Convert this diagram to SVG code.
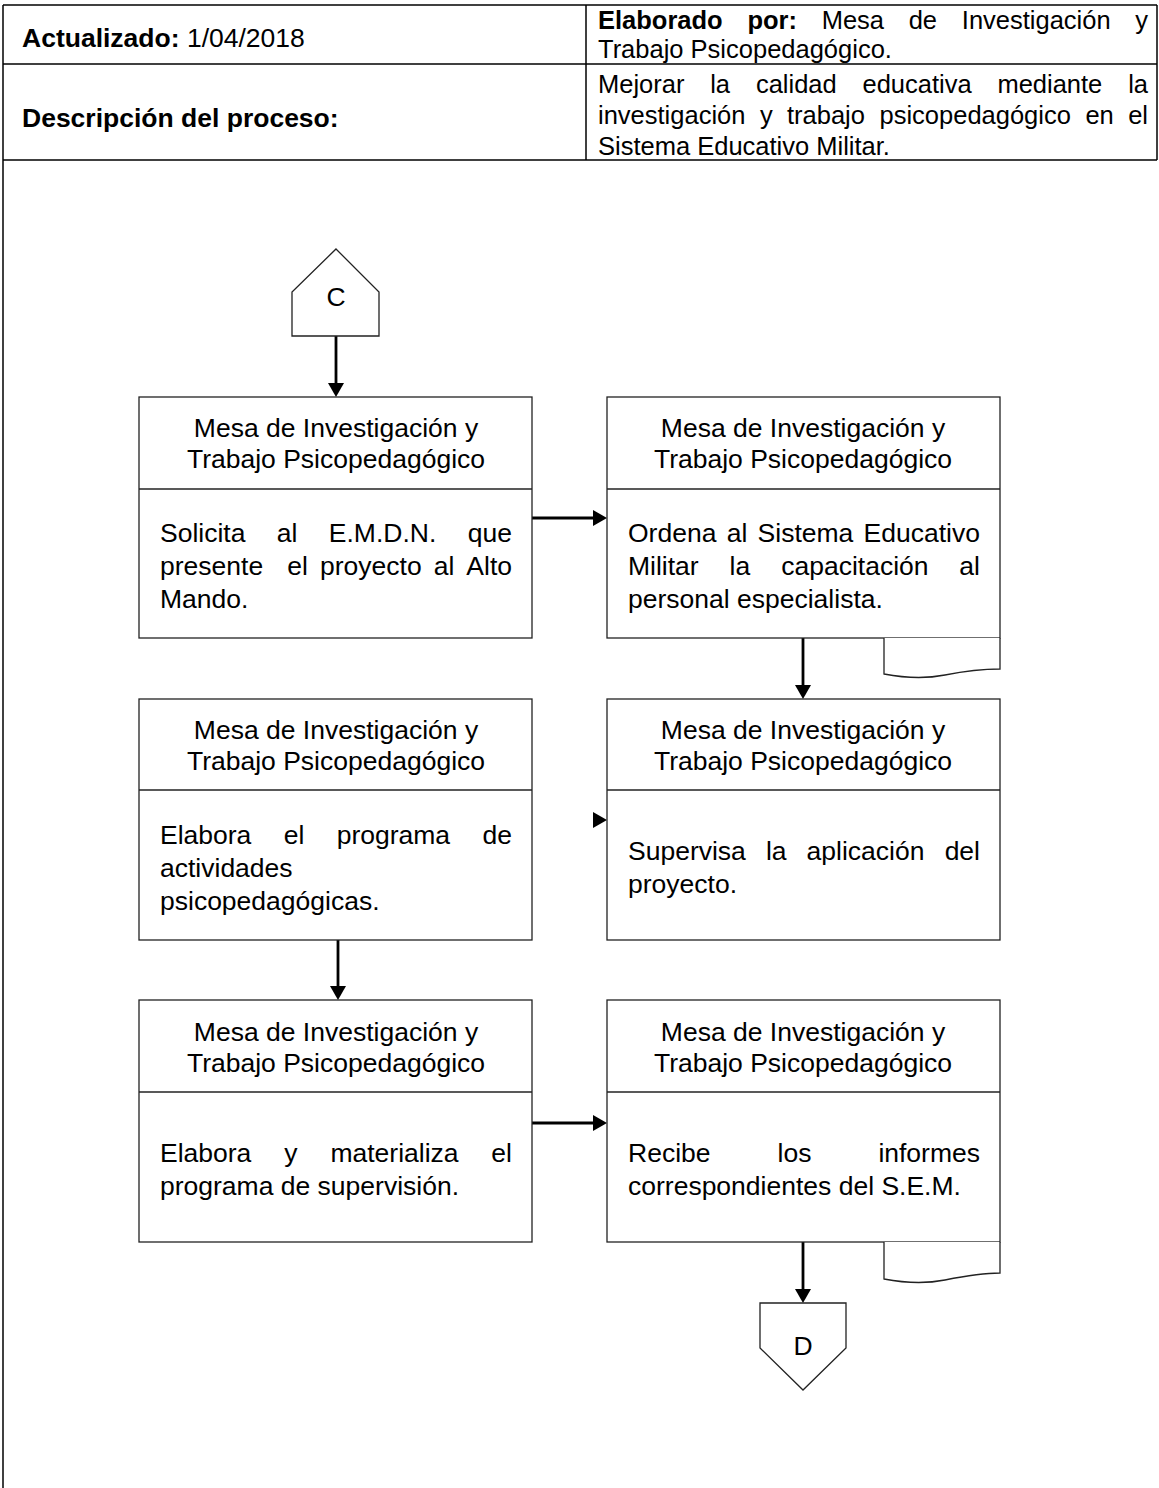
<svg xmlns="http://www.w3.org/2000/svg" width="1159" height="1488" viewBox="0 0 1159 1488">
<defs>
<style>
.t{font-family:"Liberation Sans",Arial,sans-serif;font-size:26.5px;fill:#000}
.h{font-size:25.5px}
.b{font-weight:bold}
.c{text-anchor:middle}
.e{text-anchor:end}
.frame{stroke:#000;stroke-width:1.5;fill:none}
.box{fill:#fff;stroke:#222;stroke-width:1.3}
.ln{stroke:#222;stroke-width:1.3;fill:none}
.conn{stroke:#000;stroke-width:2.8;fill:none}
.head{fill:#000;stroke:none}
</style>
</defs>
<rect x="0" y="0" width="1159" height="1488" fill="#fff"/>
<g id="frame">
<line class="frame" x1="3" y1="5" x2="1157" y2="5"/>
<line class="frame" x1="3" y1="64" x2="1157" y2="64"/>
<line class="frame" x1="3" y1="160" x2="1157" y2="160"/>
<line class="frame" x1="3" y1="5" x2="3" y2="1488"/>
<line class="frame" x1="1157" y1="5" x2="1157" y2="160"/>
<line class="frame" x1="586" y1="5" x2="586" y2="160"/>
<text class="t" x="22" y="47"><tspan class="b">Actualizado:</tspan> 1/04/2018</text>
<text class="t h b" x="598" y="29">Elaborado</text>
<text class="t h b" x="747.4" y="29">por:</text>
<text class="t h" x="821.7" y="29">Mesa</text>
<text class="t h" x="908.7" y="29">de</text>
<text class="t h" x="961.8" y="29">Investigación</text>
<text class="t h e" x="1148" y="29">y</text>
<text class="t h" x="598" y="58">Trabajo Psicopedagógico.</text>
<text class="t b" x="22" y="127">Descripción del proceso:</text>
<text class="t h" x="598" y="93">Mejorar</text>
<text class="t h" x="710.2" y="93">la</text>
<text class="t h" x="755.9" y="93">calidad</text>
<text class="t h" x="862.5" y="93">educativa</text>
<text class="t h" x="997.4" y="93">mediante</text>
<text class="t h e" x="1148" y="93">la</text>
<text class="t h" x="598" y="124">investigación</text>
<text class="t h" x="759.9" y="124">y</text>
<text class="t h" x="787" y="124">trabajo</text>
<text class="t h" x="879.5" y="124">psicopedagógico</text>
<text class="t h" x="1085.4" y="124">en</text>
<text class="t h e" x="1148" y="124">el</text>
<text class="t h" x="598" y="155">Sistema Educativo Militar.</text>
</g>
<g id="connectors">
<line class="conn" x1="336" y1="336" x2="336" y2="384"/>
<polygon class="head" points="328,383 344,383 336,397"/>
<line class="conn" x1="532" y1="518" x2="594" y2="518"/>
<polygon class="head" points="593,510 593,526 607,518"/>
<line class="conn" x1="803" y1="638" x2="803" y2="686"/>
<polygon class="head" points="795,685 811,685 803,699"/>
<polygon class="head" points="593,812 593,828 607,820"/>
<line class="conn" x1="338" y1="940" x2="338" y2="987"/>
<polygon class="head" points="330,986 346,986 338,1000"/>
<line class="conn" x1="532" y1="1123" x2="594" y2="1123"/>
<polygon class="head" points="593,1115 593,1131 607,1123"/>
<line class="conn" x1="803" y1="1242" x2="803" y2="1290"/>
<polygon class="head" points="795,1289 811,1289 803,1303"/>
</g>
<g id="C">
<polygon class="box" points="336,249 379,292 379,336 292,336 292,292"/>
<text class="t c" x="336" y="306">C</text>
</g>
<g id="n1">
<rect class="box" x="139" y="397" width="393" height="241"/>
<line class="ln" x1="139" y1="489" x2="532" y2="489"/>
<text class="t c" x="336" y="437">Mesa de Investigación y</text>
<text class="t c" x="336" y="468">Trabajo Psicopedagógico</text>
<text class="t" x="160" y="542">Solicita</text>
<text class="t" x="276.8" y="542">al</text>
<text class="t" x="328.8" y="542">E.M.D.N.</text>
<text class="t e" x="512" y="542">que</text>
<text class="t" x="160" y="575">presente</text>
<text class="t" x="287.3" y="575">el</text>
<text class="t" x="320" y="575">proyecto</text>
<text class="t" x="433.7" y="575">al</text>
<text class="t e" x="512" y="575">Alto</text>
<text class="t" x="160" y="608">Mando.</text>
</g>
<g id="n2">
<rect class="box" x="607" y="397" width="393" height="241"/>
<line class="ln" x1="607" y1="489" x2="1000" y2="489"/>
<path class="box" d="M884,638 V674 C905,678 925,679 945,675 C965,671 985,669 1000,669 V638"/>
<text class="t c" x="803" y="437">Mesa de Investigación y</text>
<text class="t c" x="803" y="468">Trabajo Psicopedagógico</text>
<text class="t" x="628" y="542">Ordena</text>
<text class="t" x="726.7" y="542">al</text>
<text class="t" x="757.6" y="542">Sistema</text>
<text class="t e" x="980" y="542">Educativo</text>
<text class="t" x="628" y="575">Militar</text>
<text class="t" x="729.6" y="575">la</text>
<text class="t" x="781.2" y="575">capacitación</text>
<text class="t e" x="980" y="575">al</text>
<text class="t" x="628" y="608">personal especialista.</text>
</g>
<g id="n3">
<rect class="box" x="139" y="699" width="393" height="241"/>
<line class="ln" x1="139" y1="790" x2="532" y2="790"/>
<text class="t c" x="336" y="739">Mesa de Investigación y</text>
<text class="t c" x="336" y="770">Trabajo Psicopedagógico</text>
<text class="t" x="160" y="844">Elabora</text>
<text class="t" x="283.7" y="844">el</text>
<text class="t" x="336.7" y="844">programa</text>
<text class="t e" x="512" y="844">de</text>
<text class="t" x="160" y="877">actividades</text>
<text class="t" x="160" y="910">psicopedagógicas.</text>
</g>
<g id="n4">
<rect class="box" x="607" y="699" width="393" height="241"/>
<line class="ln" x1="607" y1="790" x2="1000" y2="790"/>
<text class="t c" x="803" y="739">Mesa de Investigación y</text>
<text class="t c" x="803" y="770">Trabajo Psicopedagógico</text>
<text class="t" x="628" y="860">Supervisa</text>
<text class="t" x="765.9" y="860">la</text>
<text class="t" x="806.6" y="860">aplicación</text>
<text class="t e" x="980" y="860">del</text>
<text class="t" x="628" y="893">proyecto.</text>
</g>
<g id="n5">
<rect class="box" x="139" y="1000" width="393" height="242"/>
<line class="ln" x1="139" y1="1092" x2="532" y2="1092"/>
<text class="t c" x="336" y="1041">Mesa de Investigación y</text>
<text class="t c" x="336" y="1072">Trabajo Psicopedagógico</text>
<text class="t" x="160" y="1162">Elabora</text>
<text class="t" x="284.2" y="1162">y</text>
<text class="t" x="330.4" y="1162">materializa</text>
<text class="t e" x="512" y="1162">el</text>
<text class="t" x="160" y="1195">programa de supervisión.</text>
</g>
<g id="n6">
<rect class="box" x="607" y="1000" width="393" height="242"/>
<line class="ln" x1="607" y1="1092" x2="1000" y2="1092"/>
<path class="box" d="M884,1242 V1279 C905,1283 925,1284 945,1280 C965,1276 985,1273 1000,1273 V1242"/>
<text class="t c" x="803" y="1041">Mesa de Investigación y</text>
<text class="t c" x="803" y="1072">Trabajo Psicopedagógico</text>
<text class="t" x="628" y="1162">Recibe</text>
<text class="t" x="777.5" y="1162">los</text>
<text class="t e" x="980" y="1162">informes</text>
<text class="t" x="628" y="1195">correspondientes del S.E.M.</text>
</g>
<g id="D">
<polygon class="box" points="760,1303 846,1303 846,1348 803,1390 760,1348"/>
<text class="t c" x="803" y="1355">D</text>
</g>
</svg>
